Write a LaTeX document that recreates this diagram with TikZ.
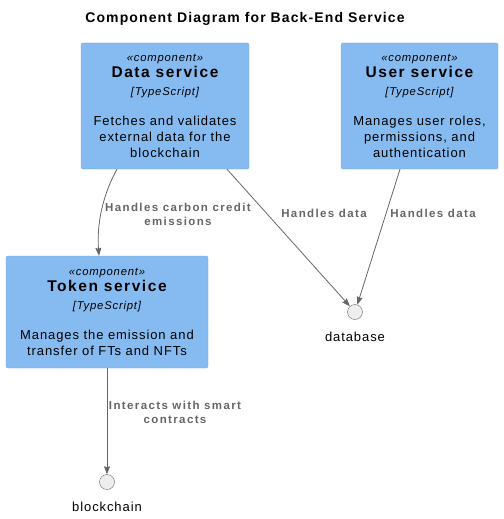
\documentclass[tikz,border=0pt]{standalone}
\usepackage{fontspec}
\setmainfont{Liberation Sans}[LetterSpace=7]
\usetikzlibrary{arrows.meta}

\definecolor{compfill}{HTML}{85BBF0}
\definecolor{compline}{HTML}{78A8D8}
\definecolor{relgray}{HTML}{666666}
\definecolor{lblgray}{HTML}{666666}
\definecolor{ifacefill}{HTML}{EEEEEE}

\tikzset{
  compbox/.style={rectangle, rounded corners=2pt, draw=compline, fill=compfill,
    align=center, inner sep=0pt, font=\fontsize{13}{16}\selectfont},
  iface/.style={circle, draw=relgray, fill=ifacefill, minimum size=15pt, inner sep=0pt},
  ifacename/.style={font=\fontsize{13}{15}\selectfont},
  rel/.style={draw=relgray, line width=0.8pt, -{Stealth[length=8pt,width=6pt,inset=1pt]}},
  rellabel/.style={align=center, text=lblgray,
    font=\bfseries\fontsize{11.5}{14}\selectfont\addfontfeature{LetterSpace=12}}
}

\newcommand{\comptext}[2]{{\itshape\fontsize{11.3}{16}\selectfont «component»}\\
  {\bfseries\fontsize{15.5}{16}\selectfont\addfontfeature{LetterSpace=10}#1}\\[2pt]
  {\itshape\fontsize{11.3}{16}\selectfont [TypeScript]}\\[14.5pt]
  #2}

\begin{document}
\begin{tikzpicture}[x=1pt,y=-1pt]
    \useasboundingbox (0,0) rectangle (503,519);
    \node[font=\bfseries\fontsize{14}{16}\selectfont\addfontfeature{LetterSpace=8}] at (245,19) (title) {Component Diagram for Back-End Service};

    \node[compbox, minimum width=168pt, minimum height=126pt] at (165,106) (data)
      {\comptext{Data service}{Fetches and validates\\external data for the\\blockchain}};
    \node[compbox, minimum width=157pt, minimum height=126pt] at (419.5,106) (user)
      {\comptext{User service}{Manages user roles,\\permissions, and\\authentication}};
    \node[compbox, minimum width=202pt, minimum height=112pt] at (107,312) (token)
      {\comptext{Token service}{Manages the emission and\\transfer of FTs and NFTs}};

    \node[iface] at (355,312) (db) {};
    \node[ifacename] at (355,337) (dbname) {database};
    \node[iface] at (107,482) (chain) {};
    \node[ifacename] at (107,507) (chainname) {blockchain};

    \draw[rel] ([xshift=-48pt]data.south) .. controls (100,200) and (97,230) .. ([xshift=-8pt]token.north);
    \draw[rel] ([xshift=62pt]data.south) -- (db);
    \draw[rel] ([xshift=-19.5pt]user.south) -- (db);
    \draw[rel] (token.south) -- (chain);

    \node[rellabel] at (178,214) (carbon) {Handles carbon credit\\emissions};
    \node[rellabel] at (324,213) (datalbl) {Handles data};
    \node[rellabel] at (433,213) (userlbl) {Handles data};
    \node[rellabel] at (175,412) (smart) {Interacts with smart\\contracts};
\end{tikzpicture}
\end{document}
